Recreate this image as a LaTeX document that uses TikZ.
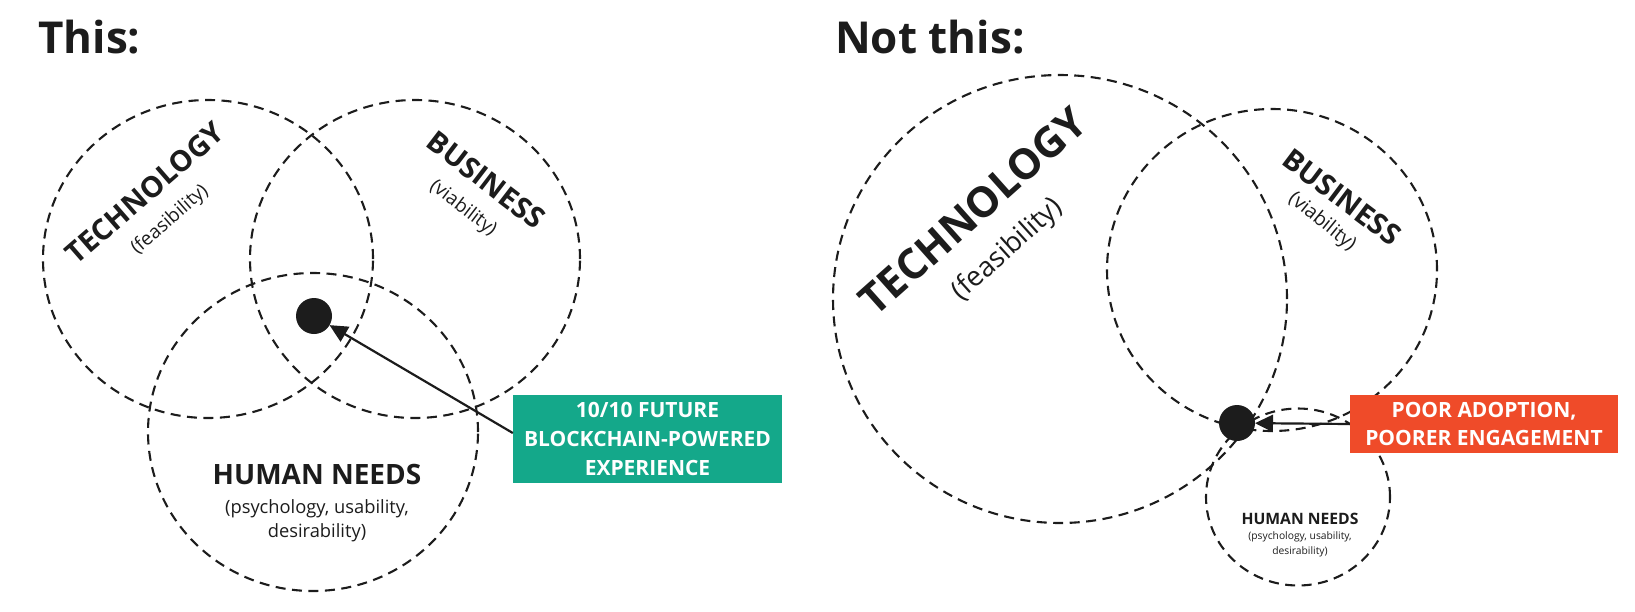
\documentclass[tikz,border=0pt]{standalone}
\usepackage{fontspec}
\setmainfont{Open Sans}
\usetikzlibrary{shapes.geometric,arrows.meta}
\definecolor{ink}{HTML}{1C1C1C}
\definecolor{boxgreen}{HTML}{14A88A}
\definecolor{boxred}{HTML}{EF4B29}
\tikzset{
  ring/.style={ellipse,draw=ink,line width=2.1pt,dash pattern=on 10pt off 6.5pt,inner sep=0pt},
  bigdot/.style={circle,fill=ink,minimum size=36pt,inner sep=0pt,outer sep=0pt},
  lbl/.style={text=ink,inner sep=0pt,font=\bfseries},
  sub/.style={text=ink,inner sep=0pt},
  callout/.style={text=white,font=\bfseries\fontsize{21}{29}\selectfont,align=center,inner sep=0pt},
  pointer/.style={draw=ink,line width=2.2pt,-{Triangle[length=18pt,width=17pt]}},
}
\begin{document}
\begin{tikzpicture}[x=1pt,y=-1pt]
\useasboundingbox (0,0) rectangle (1635,611);
% titles
\node[lbl,anchor=base west,font=\bfseries\fontsize{44}{50}\selectfont] (t1) at (38,53.6) {This:};
\node[lbl,anchor=base west,font=\bfseries\fontsize{44}{50}\selectfont] (t2) at (835,53.6) {Not this:};
% left venn
\node[ring,minimum width=330pt,minimum height=318pt] (tech1) at (208,259) {};
\node[ring,minimum width=330pt,minimum height=318pt] (bus1) at (415,259) {};
\node[ring,minimum width=330pt,minimum height=318pt] (hum1) at (313,432) {};
\node[bigdot] (dot1) at (314,316) {};
\node[lbl,rotate=41,font=\bfseries\fontsize{29}{34}\selectfont] (tl1) at (145,193) {TECHNOLOGY};
\node[sub,rotate=41,font=\fontsize{19}{23}\selectfont] (ts1) at (170,220) {(feasibility)};
\node[lbl,rotate=-37.5,font=\bfseries\fontsize{29}{34}\selectfont] (bl1) at (486,180) {BUSINESS};
\node[sub,rotate=-37.5,font=\fontsize{19}{23}\selectfont] (bs1) at (463,208.5) {(viability)};
\node[lbl,font=\bfseries\fontsize{28}{34}\selectfont] (hl1) at (317,474.5) {HUMAN NEEDS};
\node[sub,font=\fontsize{18.3}{22}\selectfont] (hs1) at (317,509) {(psychology, usability,};
\node[sub,font=\fontsize{18.3}{22}\selectfont] (hs1b) at (317,533) {desirability)};
\node[fill=boxgreen,minimum width=269pt,minimum height=88pt,inner sep=0pt] (gbox) at (647.5,439) {};
\node[callout] (gtext) at (gbox.center) {10/10 FUTURE\\BLOCKCHAIN-POWERED\\EXPERIENCE};
\draw[pointer] ([yshift=6pt]gbox.west) -- (dot1);
% right venn
\node[ring,minimum width=454pt,minimum height=448pt] (tech2) at (1060,299) {};
\node[ring,minimum width=330pt,minimum height=322pt] (bus2) at (1272,270) {};
\node[ring,minimum width=184pt,minimum height=177pt] (hum2) at (1298,497) {};
\node[bigdot] (dot2) at (1237,423) {};
\node[lbl,rotate=41.7,font=\bfseries\fontsize{42}{48}\selectfont] (tl2) at (973,211) {TECHNOLOGY};
\node[sub,rotate=42,font=\fontsize{27.5}{32}\selectfont] (ts2) at (1008,250) {(feasibility)};
\node[lbl,rotate=-37,font=\bfseries\fontsize{29}{34}\selectfont] (bl2) at (1342,197) {BUSINESS};
\node[sub,rotate=-39,font=\fontsize{19.5}{23}\selectfont] (bs2) at (1322,222) {(viability)};
\node[lbl,font=\bfseries\fontsize{15.7}{19}\selectfont] (hl2) at (1300,519) {HUMAN NEEDS};
\node[sub,font=\fontsize{10.3}{13}\selectfont] (hs2) at (1300,537) {(psychology, usability,};
\node[sub,font=\fontsize{10.3}{13}\selectfont] (hs2b) at (1300,552) {desirability)};
\node[fill=boxred,minimum width=268pt,minimum height=58pt,inner sep=0pt] (rbox) at (1484,424) {};
\node[callout,font=\bfseries\fontsize{21}{28}\selectfont] (rtext) at (rbox.center) {POOR ADOPTION,\\POORER ENGAGEMENT};
\draw[pointer] (rbox.west) -- (dot2);
\end{tikzpicture}
\end{document}
